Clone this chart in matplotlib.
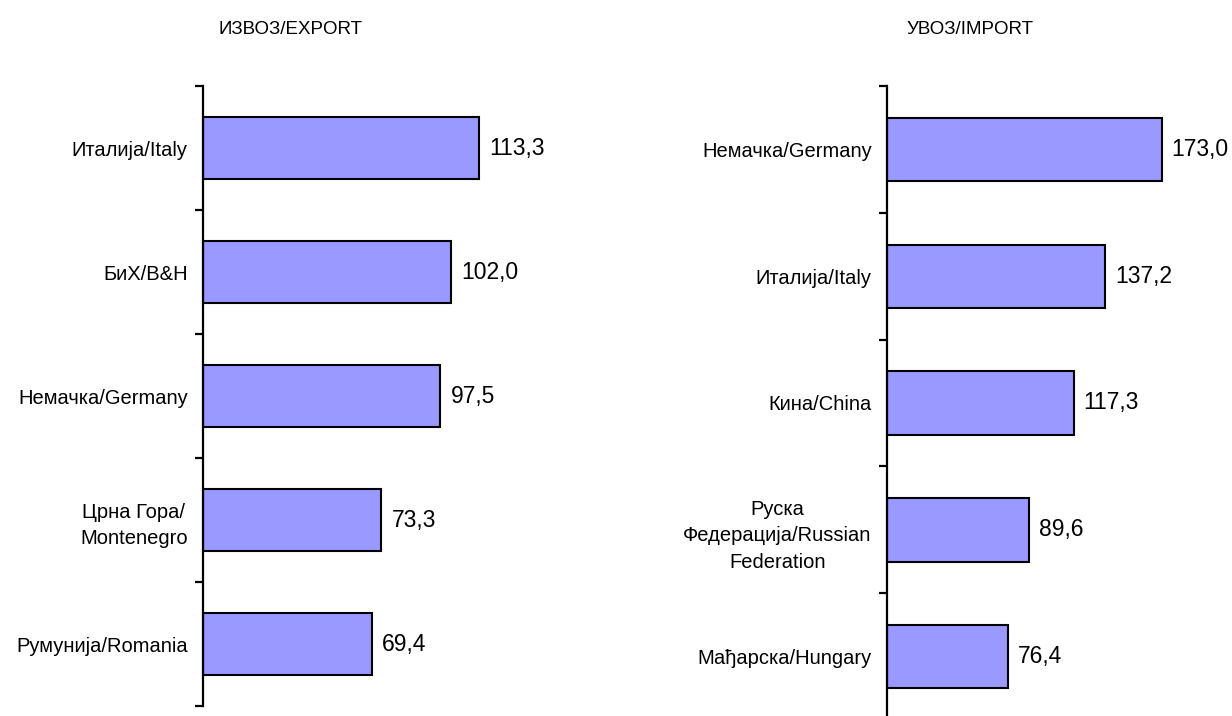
import matplotlib.pyplot as plt
import numpy as np

plt.rcParams['font.family'] = ['Liberation Sans', 'DejaVu Sans']

export_countries = ["Италија/Italy", "БиХ/B&H", "Немачка/Germany",
                    "Црна Гора/\nMontenegro", "Румунија/Romania"]
export_values = [113.3, 102.0, 97.5, 73.3, 69.4]

import_countries = ["Немачка/Germany", "Италија/Italy", "Кина/China",
                    "Руска\nФедерација/Russian\nFederation", "Мађарска/Hungary"]
import_values = [173.0, 137.2, 117.3, 89.6, 76.4]

W, H = 1232, 716
fig = plt.figure(figsize=(W / 100, H / 100), dpi=100)


def panel(rect, names, values, xmax, title, title_x):
    ax = fig.add_axes(rect)
    n = len(values)
    y = np.arange(n)
    ax.barh(y, values, height=0.5, color="#9999FF", edgecolor="black", linewidth=1.5)
    ax.set_ylim(n - 0.5, -0.5)
    ax.set_xlim(0, xmax)
    for s in ["top", "right", "bottom"]:
        ax.spines[s].set_visible(False)
    ax.spines["left"].set_linewidth(1.6)
    ax.set_xticks([])
    ax.set_yticks(y)
    ax.set_yticklabels(names, fontsize=14.5, multialignment="center", linespacing=1.5)
    ax.tick_params(axis="y", which="major", length=0, pad=11)
    ax.set_yticks(np.arange(n + 1) - 0.5, minor=True)
    ax.tick_params(axis="y", which="minor", length=6, width=1.6, direction="out")
    for yi, v in zip(y, values):
        ax.text(v + xmax * 0.028, yi, f"{v:.1f}".replace(".", ","),
                va="center", ha="left", fontsize=16.5)
    fig.text(title_x / W, 1 - 30 / H, title, ha="center", va="center", fontsize=13.5)
    return ax


# left panel: spine at x=203, rows 86..706 px
panel([203 / W, 1 - 706 / H, 357 / W, 620 / H], export_countries, export_values,
      357 / 2.435, "ИЗВОЗ/EXPORT", 290)
# right panel: spine at x=887, rows 86..720 px
panel([887 / W, 1 - 720 / H, 345 / W, 634 / H], import_countries, import_values,
      345 / 1.59, "УВОЗ/IMPORT", 970)

fig.savefig("out.png", dpi=100)
